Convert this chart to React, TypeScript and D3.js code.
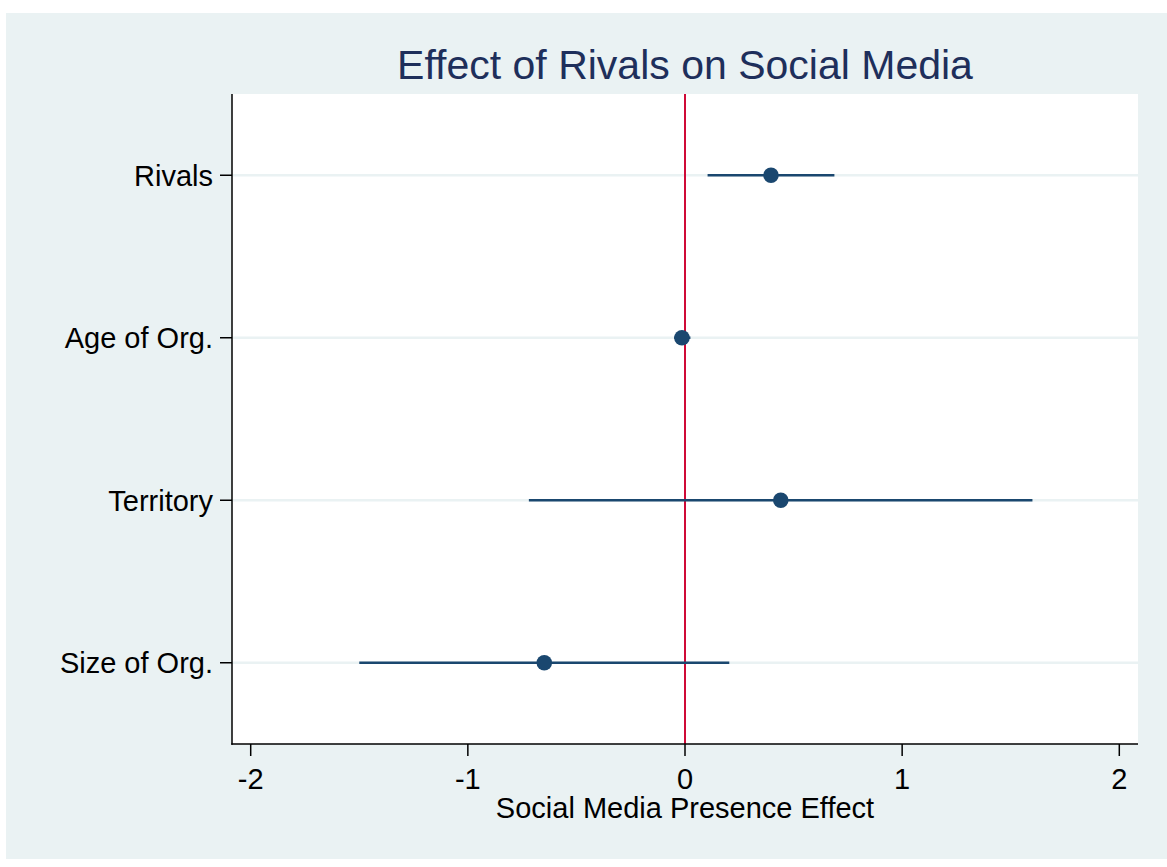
import React from "react";
import * as d3 from "d3";

// Coefficient estimates with 95% confidence bounds
const categories = ["Rivals", "Age of Org.", "Territory", "Size of Org."];
const estimates = [0.396, -0.014, 0.441, -0.648];
const lowerBounds = [0.104, -0.05, -0.719, -1.5];
const upperBounds = [0.688, 0.025, 1.6, 0.204];
const xTicks = [-2, -1, 0, 1, 2];

const W = 1167;
const H = 867;
const plot = { left: 232, right: 1138, top: 94, bottom: 744 };
const font = "'Liberation Sans', Arial, Helvetica, sans-serif";
const navy = "#1a476f";
const bg = "#eaf2f3";

export default function App() {
  const x = d3.scaleLinear().domain([-2, 2]).range([250.7, 1119.3]);
  const y = d3
    .scalePoint<string>()
    .domain(categories)
    .range([plot.top, plot.bottom])
    .padding(0.5);

  return (
    <svg
      width={W}
      height={H}
      style={{ position: "absolute", left: 0, top: 0, display: "block" }}
    >
      <rect x={0} y={0} width={W} height={H} fill="#ffffff" />
      <rect x={6} y={13} width={W - 6} height={859 - 13} fill={bg} />
      <rect
        x={plot.left}
        y={plot.top}
        width={plot.right - plot.left}
        height={plot.bottom - plot.top}
        fill="#ffffff"
      />
      {/* horizontal gridlines at each coefficient */}
      {categories.map((c) => (
        <line
          key={"g" + c}
          x1={plot.left}
          x2={plot.right}
          y1={y(c)}
          y2={y(c)}
          stroke={bg}
          strokeWidth={2.5}
        />
      ))}
      {/* reference line at zero */}
      <line
        x1={x(0)}
        x2={x(0)}
        y1={plot.top}
        y2={plot.bottom}
        stroke="#cf0a37"
        strokeWidth={2}
      />
      {/* confidence intervals and point estimates */}
      {categories.map((c, i) => (
        <g key={"m" + c}>
          <line
            x1={x(lowerBounds[i])}
            x2={x(upperBounds[i])}
            y1={y(c)}
            y2={y(c)}
            stroke={navy}
            strokeWidth={2.6}
          />
          <circle cx={x(estimates[i])} cy={y(c)} r={7.8} fill={navy} />
        </g>
      ))}
      {/* axes */}
      <line
        x1={plot.left}
        x2={plot.left}
        y1={plot.top}
        y2={plot.bottom + 0.75}
        stroke="#000"
        strokeWidth={1.5}
      />
      <line
        x1={plot.left - 0.75}
        x2={plot.right}
        y1={plot.bottom}
        y2={plot.bottom}
        stroke="#000"
        strokeWidth={1.5}
      />
      {categories.map((c) => (
        <g key={"yt" + c}>
          <line
            x1={plot.left - 12}
            x2={plot.left}
            y1={y(c)}
            y2={y(c)}
            stroke="#000"
            strokeWidth={1.5}
          />
          <text
            x={plot.left - 19}
            y={y(c)}
            dy="0.36em"
            textAnchor="end"
            fontFamily={font}
            fontSize={29}
            fill="#000"
          >
            {c}
          </text>
        </g>
      ))}
      {xTicks.map((t) => (
        <g key={"xt" + t}>
          <line
            x1={x(t)}
            x2={x(t)}
            y1={plot.bottom}
            y2={plot.bottom + 12}
            stroke="#000"
            strokeWidth={1.5}
          />
          <text
            x={x(t)}
            y={789}
            textAnchor="middle"
            fontFamily={font}
            fontSize={29}
            fill="#000"
          >
            {t}
          </text>
        </g>
      ))}
      <text
        x={(plot.left + plot.right) / 2}
        y={818}
        textAnchor="middle"
        fontFamily={font}
        fontSize={29}
        fill="#000"
      >
        Social Media Presence Effect
      </text>
      <text
        x={(plot.left + plot.right) / 2}
        y={79}
        textAnchor="middle"
        fontFamily={font}
        fontSize={41}
        fill="#1e2f5b"
      >
        Effect of Rivals on Social Media
      </text>
    </svg>
  );
}
